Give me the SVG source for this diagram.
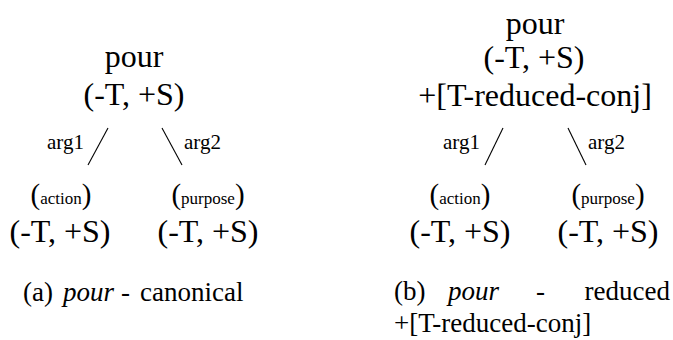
<svg xmlns="http://www.w3.org/2000/svg" width="673" height="340" viewBox="0 0 673 340">
<style>
text{font-family:"Liberation Serif",Tinos,"Times New Roman",Times,"Nimbus Roman","Nimbus Roman No9 L",FreeSerif,"DejaVu Serif","Noto Serif",Georgia,serif;fill:#000}
.big{font-size:32px;text-anchor:middle}
.arg{font-size:21px}
.sub{font-size:29px;text-anchor:middle}
.sm{font-size:17px}
.cap{font-size:27px}
.it{font-style:italic}
.edge{stroke:#000;stroke-width:1.1;fill:none}
</style>
<rect width="673" height="340" fill="#fff"/>
<g id="edges">
<line class="edge" x1="108" y1="128" x2="88" y2="165"/>
<line class="edge" x1="162" y1="128" x2="182" y2="165"/>
<line class="edge" x1="503" y1="128" x2="485" y2="165"/>
<line class="edge" x1="568" y1="128" x2="586" y2="165"/>
</g>
<g id="a-root">
<text class="big" x="134" y="67">pour</text>
<text class="big" x="134" y="105">(-T, +S)</text>
</g>
<g id="a-labels">
<text class="arg" x="47" y="149">arg1</text>
<text class="arg" x="184" y="149">arg2</text>
</g>
<g id="a-action">
<text class="sub" x="61" y="204">(<tspan class="sm">action</tspan>)</text>
<text class="big" x="60" y="242">(-T, +S)</text>
</g>
<g id="a-purpose">
<text class="sub" x="208" y="204">(<tspan class="sm">purpose</tspan>)</text>
<text class="big" x="208" y="242">(-T, +S)</text>
</g>
<g id="a-caption">
<text class="cap" x="23" y="301">(a)</text>
<text class="cap it" x="63" y="301">pour</text>
<text class="cap" x="121" y="301">-</text>
<text class="cap" x="140" y="301">canonical</text>
</g>
<g id="b-root">
<text class="big" x="535" y="34">pour</text>
<text class="big" x="534" y="68">(-T, +S)</text>
<text class="big" x="535" y="106">+[T-reduced-conj]</text>
</g>
<g id="b-labels">
<text class="arg" x="443" y="149">arg1</text>
<text class="arg" x="588" y="149">arg2</text>
</g>
<g id="b-action">
<text class="sub" x="460" y="204">(<tspan class="sm">action</tspan>)</text>
<text class="big" x="460" y="242">(-T, +S)</text>
</g>
<g id="b-purpose">
<text class="sub" x="608" y="204">(<tspan class="sm">purpose</tspan>)</text>
<text class="big" x="608" y="242">(-T, +S)</text>
</g>
<g id="b-caption">
<text class="cap" x="394" y="300">(b)</text>
<text class="cap it" x="448" y="300">pour</text>
<text class="cap" x="536" y="300">-</text>
<text class="cap" x="670" y="300" text-anchor="end">reduced</text>
<text class="cap" x="394" y="332">+[T-reduced-conj]</text>
</g>
</svg>
